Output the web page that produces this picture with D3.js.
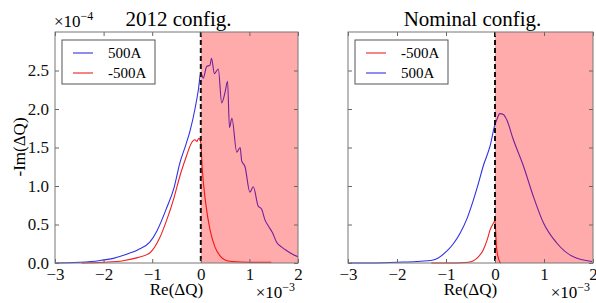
<!DOCTYPE html>
<html>
<head>
<meta charset="utf-8">
<script src="https://cdn.jsdelivr.net/npm/d3@7"></script>
<style>
  body { margin: 0; background: #fff; }
  svg { font-family: "Liberation Serif", "DejaVu Serif", serif; }
  .axis path, .axis line { stroke: #666; }
  .axis text { font-size: 17px; fill: #111; font-family: "Liberation Serif", serif; }
</style>
</head>
<body>
<svg id="chart" width="596" height="303"></svg>
<script>
// values: x in units of 1e-3, y in units of 1e-4
const xTicks = [-3, -2, -1, 0, 1, 2]
const yTicks = [0, 0.5, 1.0, 1.5, 2.0, 2.5]

const left500x = [-3, -2.5, -2.1, -1.8, -1.5, -1.3, -1.05, -0.9, -0.7, -0.55, -0.43, -0.3, -0.22, -0.12, -0.05, 0, 0.05, 0.12, 0.19, 0.22, 0.28, 0.36, 0.43, 0.5, 0.55, 0.59, 0.64, 0.74, 0.81, 0.84, 0.91, 1.01, 1.08, 1.18, 1.25, 1.32, 1.39, 1.47, 1.56, 1.68, 1.77, 1.87, 2.0]
const left500y = [0.0, 0.01, 0.03, 0.06, 0.12, 0.17, 0.27, 0.42, 0.72, 0.98, 1.30, 1.55, 1.72, 2.0, 2.25, 2.47, 2.40, 2.55, 2.57, 2.66, 2.46, 2.52, 2.08, 2.22, 2.36, 1.76, 1.88, 1.44, 1.50, 1.33, 1.25, 0.92, 0.99, 0.74, 0.70, 0.56, 0.48, 0.40, 0.27, 0.20, 0.16, 0.12, 0.08]
const leftM500x = [-2.45, -2.0, -1.6, -1.3, -1.05, -0.85, -0.7, -0.55, -0.43, -0.3, -0.2, -0.12, -0.08, -0.04, 0, 0.03, 0.1, 0.19, 0.29, 0.4, 0.5, 0.64, 1.0, 1.45]
const leftM500y = [0.0, 0.01, 0.03, 0.07, 0.13, 0.32, 0.56, 0.85, 1.13, 1.38, 1.55, 1.60, 1.58, 1.62, 1.56, 1.22, 0.78, 0.43, 0.21, 0.09, 0.04, 0.02, 0.01, 0.01]

const right500x = [-3, -2.5, -2.0, -1.6, -1.26, -0.99, -0.85, -0.71, -0.57, -0.44, -0.34, -0.24, -0.10, 0, 0.03, 0.10, 0.17, 0.24, 0.37, 0.58, 0.78, 0.99, 1.26, 1.6, 1.98]
const right500y = [0.0, 0.0, 0.01, 0.02, 0.04, 0.15, 0.25, 0.39, 0.58, 0.82, 1.03, 1.26, 1.52, 1.80, 1.85, 1.94, 1.93, 1.86, 1.61, 1.26, 0.87, 0.52, 0.26, 0.08, 0.02]
const rightM500x = [-1.3, -0.8, -0.55, -0.44, -0.34, -0.24, -0.16, -0.10, -0.03, 0, 0.03, 0.07, 0.1, 0.12]
const rightM500y = [0.0, 0.0, 0.01, 0.03, 0.08, 0.17, 0.30, 0.43, 0.52, 0.55, 0.21, 0.06, 0.01, 0.0]

const zip = (xs, ys) => xs.map((x, i) => [x, ys[i]])

const blue = '#3030e8'
const red = '#f02020'

const panels = [
  {
    title: '2012 config.', left: 55, right: 298, yLabels: true,
    series: [
      { name: '500A', color: blue, data: zip(left500x, left500y) },
      { name: '-500A', color: red, data: zip(leftM500x, leftM500y) }
    ],
    legendX: 62
  },
  {
    title: 'Nominal config.', left: 348, right: 593, yLabels: false,
    series: [
      { name: '-500A', color: red, data: zip(rightM500x, rightM500y) },
      { name: '500A', color: blue, data: zip(right500x, right500y) }
    ],
    legendX: 355
  }
]

const plotTop = 32
const plotBottom = 263
const svg = d3.select('#chart')

panels.forEach(p => {
  const x = d3.scaleLinear().domain([-3, 2]).range([p.left, p.right])
  const y = d3.scaleLinear().domain([0, 3.0]).range([plotBottom, plotTop])
  const g = svg.append('g')

  const line = d3.line().x(d => x(d[0])).y(d => y(d[1])).curve(d3.curveMonotoneX)
  p.series.forEach(s => {
    g.append('path')
      .attr('d', line(s.data))
      .attr('fill', 'none')
      .attr('stroke', s.color)
      .attr('stroke-width', 1.1)
  })

  // unstable region
  g.append('rect')
    .attr('x', x(0)).attr('y', plotTop)
    .attr('width', x(2) - x(0)).attr('height', plotBottom - plotTop)
    .attr('fill', '#ff0000').attr('opacity', 0.33)

  g.append('line')
    .attr('x1', x(0)).attr('x2', x(0)).attr('y1', plotTop).attr('y2', plotBottom)
    .attr('stroke', '#111').attr('stroke-width', 2).attr('stroke-dasharray', '5,3')

  // axes, ticks inward
  g.append('g').attr('class', 'axis')
    .attr('transform', `translate(0,${plotBottom})`)
    .call(d3.axisBottom(x).tickValues(xTicks).tickSize(-4).tickPadding(5).tickFormat(d3.format('d')))
    .call(a => a.select('.domain').remove())
  g.append('g').attr('class', 'axis')
    .attr('transform', `translate(0,${plotTop})`)
    .call(d3.axisTop(x).tickValues(xTicks).tickSize(-4).tickFormat(''))
    .call(a => a.select('.domain').remove())
  g.append('g').attr('class', 'axis')
    .attr('transform', `translate(${p.left},0)`)
    .call(d3.axisLeft(y).tickValues(yTicks).tickSize(-4).tickPadding(6)
      .tickFormat(p.yLabels ? d3.format('.1f') : ''))
    .call(a => a.select('.domain').remove())
  g.append('g').attr('class', 'axis')
    .attr('transform', `translate(${p.right},0)`)
    .call(d3.axisRight(y).tickValues(yTicks).tickSize(-4).tickFormat(''))
    .call(a => a.select('.domain').remove())

  g.append('rect')
    .attr('x', p.left).attr('y', plotTop)
    .attr('width', p.right - p.left).attr('height', plotBottom - plotTop)
    .attr('fill', 'none').attr('stroke', '#777').attr('stroke-width', 1)

  // title
  g.append('text')
    .attr('x', (p.left + p.right) / 2 + 2).attr('y', 26)
    .attr('text-anchor', 'middle').attr('font-size', 21)
    .text(p.title)

  // x label
  g.append('text')
    .attr('x', (p.left + p.right) / 2).attr('y', 295)
    .attr('text-anchor', 'middle').attr('font-size', 17)
    .text('Re(ΔQ)')

  // x offset text
  const xo = g.append('text')
    .attr('x', p.right - 3).attr('y', 298)
    .attr('text-anchor', 'end').attr('font-size', 17)
  xo.append('tspan').text('×10')
  xo.append('tspan').attr('dy', -7).attr('font-size', 12).text('−3')

  // legend
  const lx = p.legendX
  g.append('rect')
    .attr('x', lx).attr('y', 40).attr('width', 93).attr('height', 44)
    .attr('fill', '#fff').attr('stroke', '#555').attr('stroke-width', 1)
  p.series.forEach((s, i) => {
    const cy = 53 + i * 20
    g.append('line')
      .attr('x1', lx + 11).attr('x2', lx + 31).attr('y1', cy).attr('y2', cy)
      .attr('stroke', s.color).attr('stroke-width', 1.1)
    g.append('text')
      .attr('x', lx + 46).attr('y', cy + 5)
      .attr('font-size', 15)
      .text(s.name)
  })
})

// y offset text and label
const yo = svg.append('text').attr('x', 54).attr('y', 27).attr('font-size', 17)
yo.append('tspan').text('×10')
yo.append('tspan').attr('dy', -7).attr('font-size', 12).text('−4')

svg.append('text')
  .attr('transform', 'translate(25,147) rotate(-90)')
  .attr('text-anchor', 'middle').attr('font-size', 17)
  .text('-Im(ΔQ)')
</script>
</body>
</html>
